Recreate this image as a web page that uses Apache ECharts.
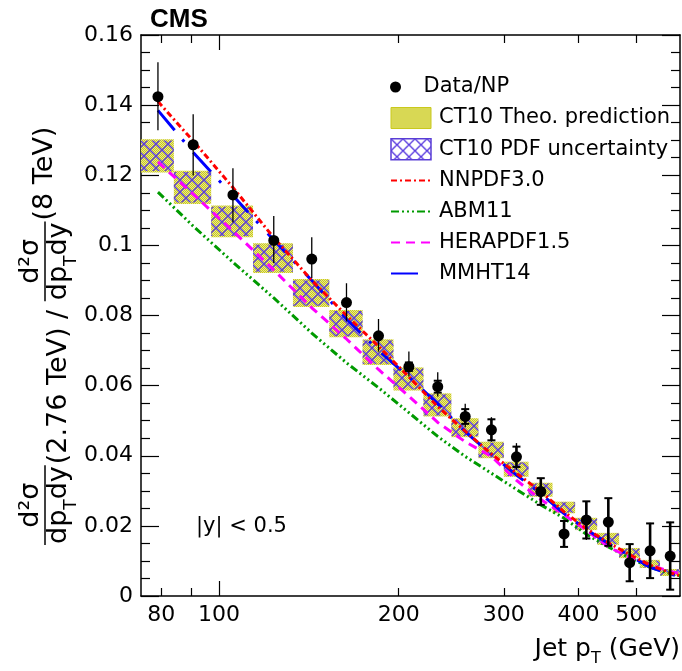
<!DOCTYPE html>
<html><head><meta charset="utf-8">
<script src="https://cdn.jsdelivr.net/npm/echarts@6/dist/echarts.min.js"></script>
<style>html,body{margin:0;padding:0;background:#fff}#c{width:682px;height:671px}</style>
</head><body><div id="c"></div>
<script>
// ---------- data ----------
const binEdges = [74,84,97,114,133,153,174,196,220,245,272,300,330,362,395,430,468,507,548,592];
const ptCenters = [79,90.5,105.5,123.5,143,163.5,185,208,232.5,258.5,286,315,346,378.5,412.5,449,487.5,527.5,570];
const dataValues = [0.1424,0.1287,0.1144,0.1014,0.0961,0.0837,0.0742,0.0654,0.0597,0.0512,0.0474,0.0397,0.0298,0.0177,0.0217,0.0211,0.0095,0.0129,0.0114];
const errUp   = [0.0098,0.0087,0.0076,0.0070,0.0062,0.0055,0.0048,0.0043,0.0041,0.0036,0.0036,0.0039,0.0038,0.0037,0.0050,0.0068,0.0053,0.0080,0.0098];
const errDown = [0.0096,0.0088,0.0079,0.0064,0.0054,0.0054,0.0045,0.0028,0.0028,0.0031,0.0034,0.0037,0.0038,0.0038,0.0057,0.0068,0.0054,0.0077,0.0095];
const errStat = [0,0,0,0,0,0,0,0.0012,0.0017,0.0021,0.0030,0.0029,0.0038,0.0037,0.0053,0.0068,0.0053,0.0078,0.0096];
const ct10Lo = [0.1208,0.1118,0.1023,0.0921,0.0824,0.0738,0.0659,0.0586,0.0512,0.0453,0.0393,0.0340,0.0283,0.0236,0.0188,0.0146,0.0108,0.0080,0.0057];
const ct10Hi = [0.1303,0.1213,0.1114,0.1006,0.0904,0.0816,0.0732,0.0652,0.0578,0.0507,0.0440,0.0383,0.0323,0.0269,0.0223,0.0180,0.0137,0.0103,0.0077];
const pdfLo  = [0.1212,0.1122,0.1027,0.0925,0.0828,0.0741,0.0662,0.0589,0.0515,0.0456,0.0395,0.0342,0.0285,0.0238,0.0190,0.0148,0.0110,0.0081,0.0058];
const pdfHi  = [0.1299,0.1209,0.1110,0.1002,0.0900,0.0813,0.0729,0.0649,0.0575,0.0504,0.0437,0.0381,0.0321,0.0267,0.0221,0.0178,0.0135,0.0101,0.0076];
const theoryPt = [79,90.5,105.5,123.5,143,163.5,185,208,232.5,258.5,286,315,346,378.5,412.5,449,487.5,527.5,570,592];
const nnpdf = [0.1410,0.1298,0.1165,0.1022,0.0900,0.0800,0.0712,0.0625,0.0540,0.0470,0.0405,0.0350,0.0298,0.0240,0.0192,0.0152,0.0118,0.0088,0.0066,0.0058];
const abm11 = [0.1152,0.1055,0.0952,0.0850,0.0750,0.0665,0.0594,0.0523,0.0455,0.0398,0.0350,0.0304,0.0260,0.0222,0.0176,0.0140,0.0108,0.0082,0.0064,0.0058];
const hera15 = [0.1238,0.1146,0.1041,0.0930,0.0822,0.0733,0.0646,0.0570,0.0495,0.0440,0.0398,0.0330,0.0275,0.0232,0.0188,0.0140,0.0110,0.0088,0.0070,0.0064];
const mmht14 = [0.1385,0.1265,0.1142,0.1015,0.0900,0.0790,0.0700,0.0625,0.0548,0.0468,0.0404,0.0345,0.0292,0.0235,0.0190,0.0150,0.0115,0.0082,0.0062,0.0056];
const xTickValues = [80,90,200,300,400,500];
const xMajorTickValues = [100];
const xLabelValues = [80,100,200,300,400,500];
const yTickLabels = ['0','0.02','0.04','0.06','0.08','0.1','0.12','0.14','0.16'];

// ---------- patterns ----------
function makeYellow(){
  const c=document.createElement('canvas'); c.width=c.height=2;
  const g=c.getContext('2d');
  g.fillStyle='#c9c91c'; g.fillRect(0,0,2,2);
  g.fillStyle='#e8e88c'; g.fillRect(1,0,1,1); g.fillRect(0,1,1,1);
  return c;
}
function makeHatch(){
  const s=12; const c=document.createElement('canvas'); c.width=c.height=s;
  const g=c.getContext('2d');
  g.strokeStyle='#5b3de0'; g.lineWidth=1.4;
  g.beginPath(); g.moveTo(0,0); g.lineTo(s,s); g.moveTo(s,0); g.lineTo(0,s); g.stroke();
  return c;
}
const yellowPat = {image: makeYellow(), repeat:'repeat'};
const hatchPat = {image: makeHatch(), repeat:'repeat'};

const FONT = '"DejaVu Sans", sans-serif';
const mctx = document.createElement('canvas').getContext('2d');
function tw(t, f){ mctx.font=f; return mctx.measureText(t).width; }

// ---------- y title (rotated) ----------
function buildYTitle(){
  const fs=27, fsub=17;
  const fMain = fs+'px "DejaVu Sans"', fSub = fsub+'px "DejaVu Sans"';
  const ch=[]; let lx=0;
  const yMain=59, yBar=45, yNum=31, ySub=72, ySup=45;
  function txt(t, x, y, f){ ch.push({type:'text', x:x, y:y, style:{text:t, font:f, fill:'#000', align:'left', verticalAlign:'middle'}}); }
  function frac(){
    const wn = tw('d²σ', fMain);
    const wd = tw('dp', fMain)+tw('T', fSub)+tw('dy', fMain);
    const W = Math.max(wn, wd)+2;
    txt('d²σ', lx+(W-wn)/2, yNum, fMain);
    let x = lx+(W-wd)/2;
    txt('dp', x, yMain, fMain); x+=tw('dp', fMain);
    txt('T', x, ySub, fSub); x+=tw('T', fSub);
    txt('dy', x, yMain, fMain);
    ch.push({type:'line', shape:{x1:lx, y1:yBar, x2:lx+W, y2:yBar}, style:{stroke:'#000', lineWidth:1.5}});
    lx += W+1;
  }
  frac();
  txt('(2.76 TeV) / ', lx, yMain, fMain); lx += tw('(2.76 TeV) / ', fMain);
  frac();
  txt('(8 TeV)', lx, ySup, fMain);
  return {type:'group', x:0, y:545, rotation:Math.PI/2, children:ch};
}
function buildXTitle(){
  const fMain='25px "DejaVu Sans"', fSub='16px "DejaVu Sans"';
  const w1=tw('Jet p', fMain), w2=tw('T', fSub), w3=tw(' (GeV)', fMain);
  let x = 680 - (w1+w2+w3); const y=649;
  const ch=[];
  ch.push({type:'text', x:x, y:y, style:{text:'Jet p', font:fMain, fill:'#000', verticalAlign:'middle'}}); x+=w1;
  ch.push({type:'text', x:x, y:y+10, style:{text:'T', font:fSub, fill:'#000', verticalAlign:'middle'}}); x+=w2;
  ch.push({type:'text', x:x, y:y, style:{text:' (GeV)', font:fMain, fill:'#000', verticalAlign:'middle'}});
  return {type:'group', children:ch};
}

// ---------- series data ----------
const boxData = binEdges.slice(0,-1).map((e,i)=>[e, binEdges[i+1], ct10Lo[i], ct10Hi[i]]);
const pdfData = binEdges.slice(0,-1).map((e,i)=>[e, binEdges[i+1], pdfLo[i], pdfHi[i]]);
const errData = ptCenters.map((p,i)=>[p, dataValues[i], errUp[i], errDown[i], errStat[i]]);
const pts = ptCenters.map((p,i)=>[p, dataValues[i]]);
const mkLine = arr => theoryPt.map((p,i)=>[p, arr[i]]);

function boxRender(fill){
  return function(params, api){
    const a = api.coord([api.value(0), api.value(3)]);
    const b = api.coord([api.value(1), api.value(2)]);
    return {type:'rect', shape:{x:a[0], y:a[1], width:b[0]-a[0], height:b[1]-a[1]}, style:{fill:fill, lineWidth:0}};
  };
}
function errRender(params, api){
  const x=api.value(0), v=api.value(1), up=api.value(2), dn=api.value(3), st=api.value(4);
  const t=api.coord([x, v+up]), b=api.coord([x, v-dn]);
  const ch=[{type:'line', shape:{x1:t[0],y1:t[1],x2:b[0],y2:b[1]}, style:{stroke:'#000', lineWidth:1.3}}];
  if(st>0){
    const s1=api.coord([x, v+st]), s2=api.coord([x, v-st]); const hw=4;
    ch.push({type:'line', shape:{x1:s1[0],y1:s1[1],x2:s2[0],y2:s2[1]}, style:{stroke:'#000', lineWidth:2.6}});
    ch.push({type:'line', shape:{x1:s1[0]-hw,y1:s1[1],x2:s1[0]+hw,y2:s1[1]}, style:{stroke:'#000', lineWidth:2}});
    ch.push({type:'line', shape:{x1:s2[0]-hw,y1:s2[1],x2:s2[0]+hw,y2:s2[1]}, style:{stroke:'#000', lineWidth:2}});
  }
  return {type:'group', children:ch};
}

const axLine = {show:true, lineStyle:{color:'#000', width:1.5}};
const xBase = {type:'log', logBase:10, min:74, max:592, splitLine:{show:false}, minorTick:{show:false}};
const yBase = {type:'value', min:0, max:0.16, interval:0.02, splitLine:{show:false},
  axisTick:{show:true, inside:true, length:18, lineStyle:{color:'#000', width:1.2}},
  minorTick:{show:true, splitNumber:4, length:9, lineStyle:{color:'#000', width:1.2}}};
const hideSym = {color:'rgba(0,0,0,0)', opacity:0, borderWidth:0};

const chart = echarts.init(document.getElementById('c'));
chart.setOption({
  animation:false,
  backgroundColor:'#fff',
  grid:{left:141, right:2, top:35, bottom:75},
  xAxis:[
    Object.assign({}, xBase, {position:'bottom', axisLine:axLine,
      axisTick:{show:true, inside:true, length:8, customValues:xTickValues, lineStyle:{color:'#000', width:1.2}},
      axisLabel:{show:true, customValues:xLabelValues, fontSize:22, fontFamily:FONT, color:'#000', margin:8}}),
    Object.assign({}, xBase, {position:'bottom', axisLine:{show:false},
      axisTick:{show:true, inside:true, length:15, customValues:xMajorTickValues, lineStyle:{color:'#000', width:1.2}},
      axisLabel:{show:false}}),
    Object.assign({}, xBase, {position:'top', axisLine:axLine,
      axisTick:{show:true, inside:true, length:8, customValues:xTickValues, lineStyle:{color:'#000', width:1.2}},
      axisLabel:{show:false}}),
    Object.assign({}, xBase, {position:'top', axisLine:{show:false},
      axisTick:{show:true, inside:true, length:15, customValues:xMajorTickValues, lineStyle:{color:'#000', width:1.2}},
      axisLabel:{show:false}})
  ],
  yAxis:[
    Object.assign({}, yBase, {position:'left', axisLine:axLine,
      axisLabel:{show:true, fontSize:22, fontFamily:FONT, color:'#000', margin:8,
        formatter: v => yTickLabels[Math.round(v/0.02)]}}),
    Object.assign({}, yBase, {position:'right', axisLine:axLine, axisLabel:{show:false}})
  ],
  legend:[
    {data:[{name:'Data/NP', icon:'circle', itemStyle:{color:'#000', opacity:1}}], orient:'vertical', left:390, top:76, padding:0,
     itemWidth:40, itemHeight:11, selectedMode:false,
     textStyle:{fontSize:21, fontFamily:FONT, color:'#000', lineHeight:22, padding:[0,0,0,3]}},
    {data:[
      {name:'CT10 Theo. prediction', icon:'rect', itemStyle:{color:yellowPat, borderColor:'#c9c91c', borderWidth:1}},
      {name:'CT10 PDF uncertainty', icon:'rect', itemStyle:{color:hatchPat, borderColor:'#5a3ed6', borderWidth:1.5}},
      {name:'NNPDF3.0', itemStyle:hideSym},
      {name:'ABM11', itemStyle:hideSym},
      {name:'HERAPDF1.5', itemStyle:hideSym},
      {name:'MMHT14', itemStyle:hideSym, lineStyle:{type:[27,20]}}
     ], orient:'vertical', left:390, top:107, padding:0, itemGap:9,
     itemWidth:40, itemHeight:21, selectedMode:false,
     textStyle:{fontSize:21, fontFamily:FONT, color:'#000', lineHeight:22, padding:[0,0,0,3]}}
  ],
  graphic:[
    {type:'text', left:150, top:7, style:{text:'CMS', font:'bold 26px "Liberation Sans", Arial, sans-serif', fill:'#000'}},
    {type:'text', left:196, top:516, style:{text:'|y| < 0.5', font:'21px "DejaVu Sans"', fill:'#000'}},
    buildYTitle(),
    buildXTitle()
  ],
  series:[
    {type:'custom', name:'CT10 Theo. prediction', renderItem:boxRender(yellowPat), data:boxData,
     encode:{x:[0,1], y:[2,3]}, itemStyle:{color:yellowPat}, z:1},
    {type:'custom', name:'CT10 PDF uncertainty', renderItem:boxRender(hatchPat), data:pdfData,
     encode:{x:[0,1], y:[2,3]}, itemStyle:{color:hatchPat}, z:2},
    {type:'line', name:'ABM11', data:mkLine(abm11), symbol:'none', showSymbol:false,
     lineStyle:{color:'#009a00', width:3, type:[8,3,2,3,2,3,2,3]}, itemStyle:{color:'#009a00'}, z:3},
    {type:'line', name:'HERAPDF1.5', data:mkLine(hera15), symbol:'none', showSymbol:false,
     lineStyle:{color:'#ff00ff', width:3, type:[9,6]}, itemStyle:{color:'#ff00ff'}, z:3},
    {type:'line', name:'MMHT14', data:mkLine(mmht14), symbol:'none', showSymbol:false,
     lineStyle:{color:'#0000ff', width:3, type:[26,12,3,14]}, itemStyle:{color:'#0000ff'}, z:4},
    {type:'line', name:'NNPDF3.0', data:mkLine(nnpdf), symbol:'none', showSymbol:false,
     lineStyle:{color:'#ff0000', width:3, type:[6,3,2,3]}, itemStyle:{color:'#ff0000'}, z:5},
    {type:'custom', name:'errors', renderItem:errRender, data:errData, encode:{x:0, y:1}, z:6},
    {type:'scatter', name:'Data/NP', data:pts, symbol:'circle', symbolSize:11, itemStyle:{color:'#000', opacity:1}, z:7}
  ]
});
</script></body></html>
